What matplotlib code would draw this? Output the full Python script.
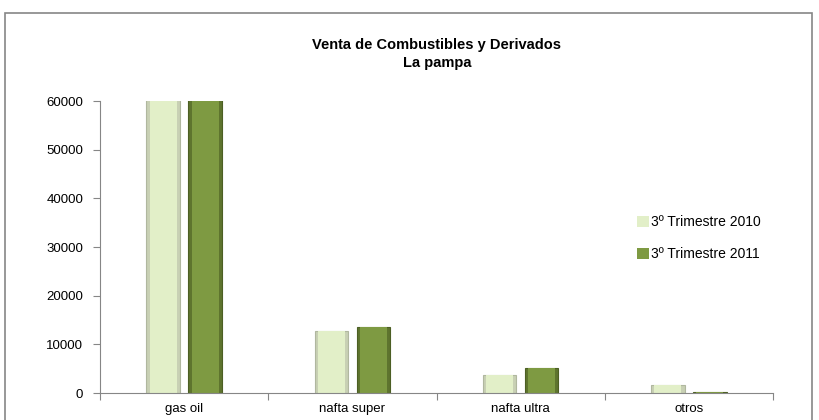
import matplotlib.pyplot as plt
from matplotlib.patches import Rectangle
import numpy as np

plt.rcParams['font.family'] = ['Liberation Sans', 'DejaVu Sans']

categories = ['gas oil', 'nafta super', 'nafta ultra', 'otros']
series_names = ['3º Trimestre 2010', '3º Trimestre 2011']
ventas_2010 = [78000, 12650, 3600, 1650]
ventas_2011 = [81000, 13550, 5100, 300]
yticks = [0, 10000, 20000, 30000, 40000, 50000, 60000]

light = '#E2EFC8'
dark = '#7E9A42'

fig = plt.figure(figsize=(8.19, 4.2), dpi=100)
ax = fig.add_axes([100/819, 27/420, 673/819, 292/420])

# outer chart frame
fig.patches.append(Rectangle((5/819, -0.05), 807/819, (420-13)/420 + 0.05,
                             transform=fig.transFigure, fill=False,
                             edgecolor='#868686', linewidth=1.2))

x = np.arange(len(categories))
w = 0.2
# outer bars (bevel edges) then inner faces
ax.bar(x - 0.125, ventas_2010, w, color='#C8D0B4', edgecolor='#B0B79F', linewidth=0.8)
ax.bar(x + 0.125, ventas_2011, w, color='#5E742E', edgecolor='#4C5F24', linewidth=0.8)
ax.bar(x - 0.125, ventas_2010, w * 0.8, color=light, linewidth=0, label=series_names[0])
ax.bar(x + 0.125, ventas_2011, w * 0.8, color=dark, linewidth=0, label=series_names[1])

ax.set_xlim(-0.5, len(categories) - 0.5)
ax.set_ylim(0, 60000)
ax.set_yticks(yticks)
ax.set_xticks(np.arange(len(categories) + 1) - 0.5)
ax.set_xticklabels([])
ax.set_xticks(x, minor=True)
ax.set_xticklabels(categories, minor=True)
ax.tick_params(axis='x', which='minor', length=0, pad=7, labelsize=9.5)
ax.tick_params(axis='x', which='major', direction='out', length=5, color='#868686')
ax.tick_params(axis='y', direction='out', length=5, color='#868686', pad=7, labelsize=9.5)

for s in ['top', 'right']:
    ax.spines[s].set_visible(False)
for s in ['left', 'bottom']:
    ax.spines[s].set_color('#868686')

fig.text(437/819, 1 - 45/420, 'Venta de Combustibles y Derivados', ha='center', va='center',
         fontsize=10.5, fontweight='bold')
fig.text(437/819, 1 - 63/420, 'La pampa', ha='center', va='center',
         fontsize=10.5, fontweight='bold')

ax.legend(loc='center left', bbox_to_anchor=(0.78, 0.53), frameon=False, fontsize=10,
          handlelength=0.8, handleheight=0.8, handletextpad=0.15, labelspacing=1.3)

plt.savefig('out.png', dpi=100)
